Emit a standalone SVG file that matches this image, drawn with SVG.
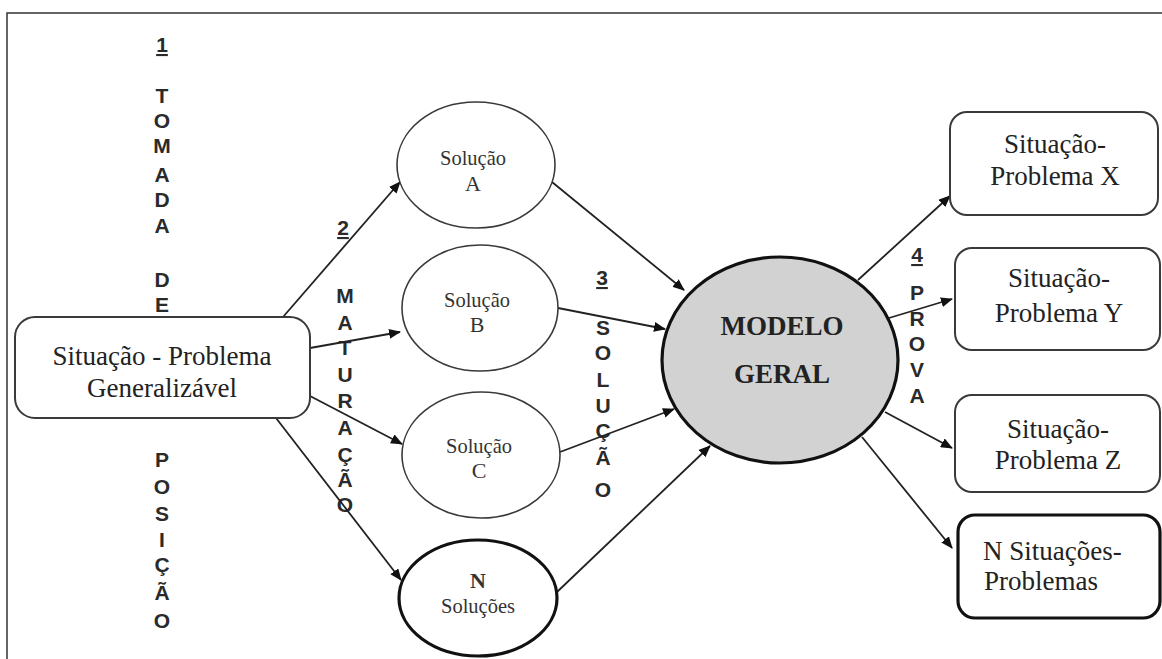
<svg xmlns="http://www.w3.org/2000/svg" width="1162" height="659" viewBox="0 0 1162 659">
<style>
.frame{fill:none;stroke:#333;stroke-width:1.5}
.node{fill:#fff;stroke:#3a3a3a;stroke-width:2}
.thick{fill:#fff;stroke:#111;stroke-width:3.2}
.model{fill:#d2d2d2;stroke:#111;stroke-width:3.2}
.conn{stroke:#222;stroke-width:1.8;fill:none;marker-end:url(#arr)}
.big{font-family:"Liberation Serif","Times New Roman",serif;font-size:27px;fill:#222;text-anchor:middle}
.sm{font-family:"Liberation Serif","Times New Roman",serif;font-size:22px;fill:#333;text-anchor:middle}
.bold{font-weight:bold}
.vert{font-family:"Liberation Sans Narrow","Liberation Sans",Arial,sans-serif;font-weight:bold;font-size:21px;fill:#2a2a2a;text-anchor:middle}
.num{text-decoration:underline}
</style>
<defs>
<marker id="arr" viewBox="0 0 12 10" refX="11" refY="5" markerWidth="12" markerHeight="10" markerUnits="userSpaceOnUse" orient="auto">
<path d="M0,0 L12,5 L0,10 Z" fill="#111"/>
</marker>
</defs>
<rect width="1162" height="659" fill="#fff"/>
<path class="frame" d="M7,659 V13 H1162"/>

<g id="labels">
<text class="vert num" x="162" y="52">1</text>
<text class="vert" x="162" y="103">T</text>
<text class="vert" x="162" y="128">O</text>
<text class="vert" x="162" y="153">M</text>
<text class="vert" x="162" y="182">A</text>
<text class="vert" x="162" y="207">D</text>
<text class="vert" x="162" y="233">A</text>
<text class="vert" x="162" y="287">D</text>
<text class="vert" x="162" y="312">E</text>
<text class="vert" x="162" y="467">P</text>
<text class="vert" x="162" y="494">O</text>
<text class="vert" x="162" y="521">S</text>
<text class="vert" x="162" y="547">I</text>
<text class="vert" x="162" y="572">Ç</text>
<text class="vert" x="162" y="600">Ã</text>
<text class="vert" x="162" y="628">O</text>

<text class="vert num" x="343" y="235">2</text>
<text class="vert" x="345" y="303">M</text>
<text class="vert" x="345" y="330">A</text>
<text class="vert" x="345" y="355">T</text>
<text class="vert" x="345" y="382">U</text>
<text class="vert" x="345" y="408">R</text>
<text class="vert" x="345" y="435">A</text>
<text class="vert" x="345" y="462">Ç</text>
<text class="vert" x="345" y="487">Ã</text>
<text class="vert" x="345" y="512">O</text>

<text class="vert num" x="602" y="285">3</text>
<text class="vert" x="603" y="335">S</text>
<text class="vert" x="603" y="360">O</text>
<text class="vert" x="603" y="387">L</text>
<text class="vert" x="603" y="413">U</text>
<text class="vert" x="603" y="438">Ç</text>
<text class="vert" x="603" y="465">Ã</text>
<text class="vert" x="603" y="497">O</text>

<text class="vert num" x="917" y="262">4</text>
<text class="vert" x="917" y="300">P</text>
<text class="vert" x="917" y="326">R</text>
<text class="vert" x="917" y="351">O</text>
<text class="vert" x="917" y="377">V</text>
<text class="vert" x="917" y="403">A</text>
</g>

<g id="connectors">
<line class="conn" x1="283" y1="317" x2="400" y2="182"/>
<line class="conn" x1="310" y1="348" x2="400" y2="332"/>
<line class="conn" x1="310" y1="396" x2="402" y2="444"/>
<line class="conn" x1="276" y1="418" x2="401" y2="580"/>
<line class="conn" x1="552" y1="182" x2="684" y2="290"/>
<line class="conn" x1="558" y1="308" x2="665" y2="329"/>
<line class="conn" x1="560" y1="452" x2="674" y2="409"/>
<line class="conn" x1="557" y1="592" x2="710" y2="446"/>
<line class="conn" x1="858" y1="280" x2="950" y2="196"/>
<line class="conn" x1="889" y1="318" x2="952" y2="299"/>
<line class="conn" x1="885" y1="412" x2="952" y2="448"/>
<line class="conn" x1="862" y1="437" x2="952" y2="548"/>
</g>

<g id="node-situacao">
<rect class="node" x="15" y="317" width="295" height="101" rx="20"/>
<text class="big" x="162" y="365">Situação - Problema</text>
<text class="big" x="162" y="397">Generalizável</text>
</g>

<g id="node-solucao-a">
<ellipse class="node" cx="476" cy="165" rx="79" ry="63" style="stroke-width:1.6"/>
<text class="sm" x="473" y="165" textLength="66" lengthAdjust="spacingAndGlyphs">Solução</text>
<text class="sm" x="473" y="191">A</text>
</g>

<g id="node-solucao-b">
<ellipse class="node" cx="480" cy="308" rx="78" ry="63" style="stroke-width:1.6"/>
<text class="sm" x="477" y="307" textLength="66" lengthAdjust="spacingAndGlyphs">Solução</text>
<text class="sm" x="477" y="332">B</text>
</g>

<g id="node-solucao-c">
<ellipse class="node" cx="481" cy="455" rx="79" ry="63" style="stroke-width:1.6"/>
<text class="sm" x="479" y="453" textLength="66" lengthAdjust="spacingAndGlyphs">Solução</text>
<text class="sm" x="479" y="478">C</text>
</g>

<g id="node-n-solucoes">
<ellipse class="thick" cx="478" cy="598" rx="79" ry="58"/>
<text class="sm bold" x="478" y="588">N</text>
<text class="sm" x="478" y="613" textLength="74" lengthAdjust="spacingAndGlyphs">Soluções</text>
</g>

<g id="node-modelo">
<ellipse class="model" cx="780" cy="360" rx="118" ry="103"/>
<text class="big bold" x="782" y="335">MODELO</text>
<text class="big bold" x="782" y="383">GERAL</text>
</g>

<g id="node-x">
<rect class="node" x="950" y="112" width="208" height="103" rx="17"/>
<text class="big" x="1055" y="153">Situação-</text>
<text class="big" x="1055" y="185">Problema X</text>
</g>

<g id="node-y">
<rect class="node" x="955" y="248" width="205" height="102" rx="17"/>
<text class="big" x="1059" y="287">Situação-</text>
<text class="big" x="1059" y="322">Problema Y</text>
</g>

<g id="node-z">
<rect class="node" x="955" y="395" width="205" height="97" rx="17"/>
<text class="big" x="1058" y="438">Situação-</text>
<text class="big" x="1058" y="469">Problema Z</text>
</g>

<g id="node-n">
<rect class="thick" x="958" y="515" width="202" height="103" rx="17"/>
<text class="big" x="983" y="560" style="text-anchor:start">N Situações-</text>
<text class="big" x="984" y="590" style="text-anchor:start">Problemas</text>
</g>
</svg>
